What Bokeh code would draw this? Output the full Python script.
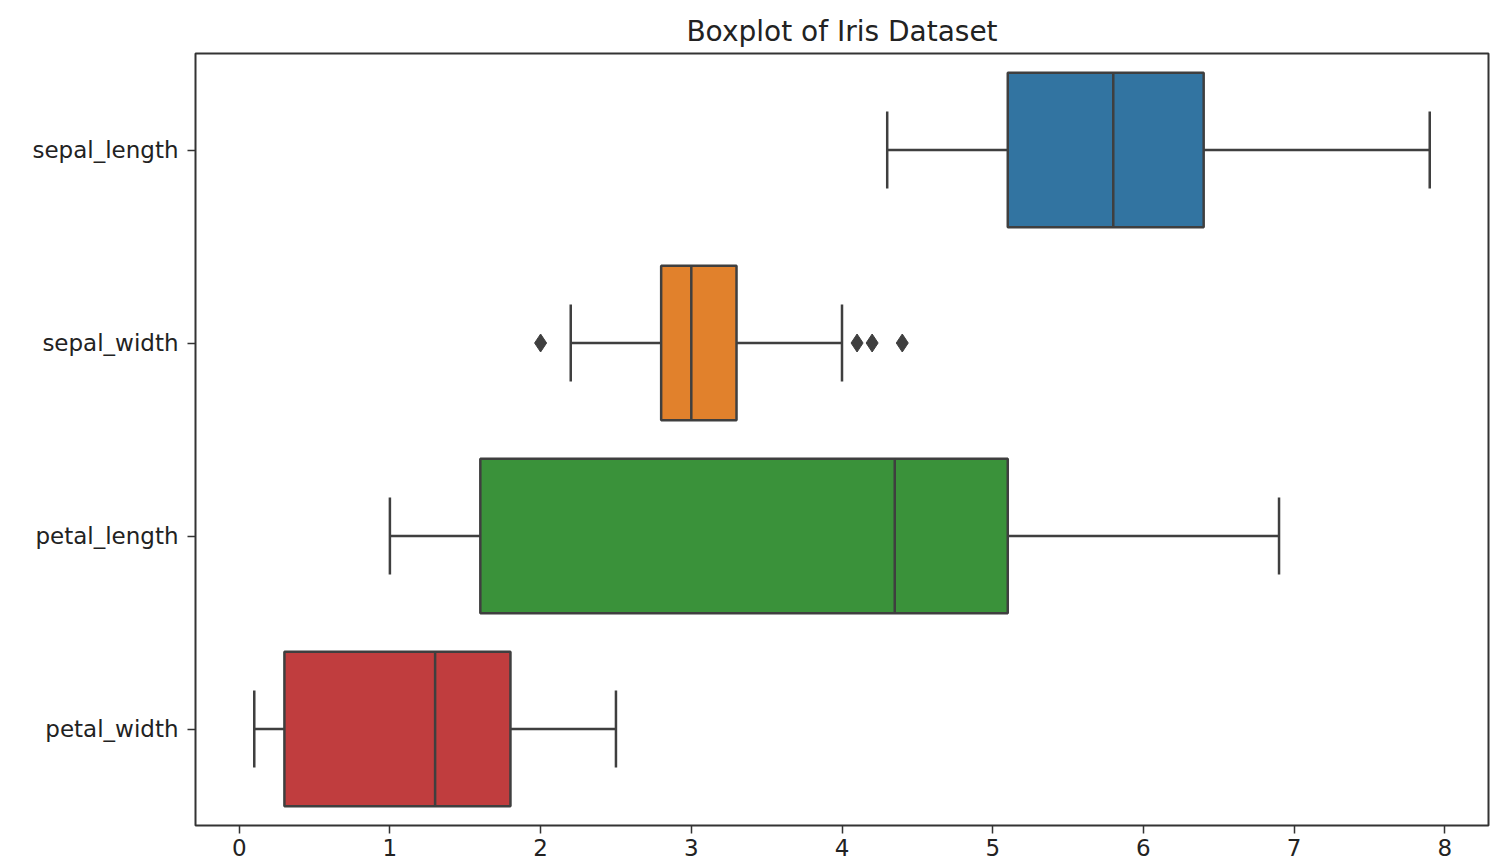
from bokeh.plotting import figure
from bokeh.models import Range1d, FactorRange, SingleIntervalTicker, ColumnDataSource
from bokeh.embed import file_html
from bokeh.resources import INLINE

categories = ["sepal_length", "sepal_width", "petal_length", "petal_width"]
whisker_lo = [4.3, 2.2, 1.0, 0.1]
q1 = [5.1, 2.8, 1.6, 0.3]
median = [5.8, 3.0, 4.35, 1.3]
q3 = [6.4, 3.3, 5.1, 1.8]
whisker_hi = [7.9, 4.0, 6.9, 2.5]
colors = ["#3274a1", "#e1812c", "#3a923a", "#c03d3e"]
outlier_cat = ["sepal_width", "sepal_width", "sepal_width", "sepal_width"]
outlier_val = [2.0, 4.1, 4.2, 4.4]

LINE = "#3f3f3f"
FONT = "DejaVu Sans"
LW = 2.5

src = ColumnDataSource(dict(cat=categories, lo=whisker_lo, q1=q1, med=median,
                            q3=q3, hi=whisker_hi, color=colors))

p = figure(width=1492, height=866, output_backend="svg", toolbar_location=None,
           y_range=FactorRange(factors=categories[::-1], range_padding=0),
           x_range=Range1d(-0.29, 8.29),
           title="Boxplot of Iris Dataset",
           min_border_left=195, min_border_right=4, min_border_top=53, min_border_bottom=41)

# whiskers
p.hbar(y="cat", left="lo", right="q1", height=0, source=src, line_color=LINE, line_width=LW, fill_color=None)
p.hbar(y="cat", left="q3", right="hi", height=0, source=src, line_color=LINE, line_width=LW, fill_color=None)
# caps
p.hbar(y="cat", left="lo", right="lo", height=0.4, source=src, line_color=LINE, line_width=LW, fill_color=None)
p.hbar(y="cat", left="hi", right="hi", height=0.4, source=src, line_color=LINE, line_width=LW, fill_color=None)
# boxes
p.hbar(y="cat", left="q1", right="q3", height=0.8, source=src, fill_color="color",
       line_color=LINE, line_width=LW)
# medians
p.hbar(y="cat", left="med", right="med", height=0.8, source=src, line_color=LINE, line_width=LW, fill_color=None)
# outliers
p.scatter(x=outlier_val, y=outlier_cat, marker="diamond", size=18,
          fill_color=LINE, line_color=LINE)

p.xgrid.visible = False
p.ygrid.visible = False
p.outline_line_color = "#333333"
p.outline_line_width = 2
p.outline_line_alpha = 1

p.xaxis.ticker = SingleIntervalTicker(interval=1)
for ax in (p.xaxis[0], p.yaxis[0]):
    ax.axis_line_color = None
    ax.major_tick_in = 0
    ax.major_tick_out = 8
    ax.minor_tick_line_color = None
    ax.major_tick_line_color = "#333333"
    ax.major_tick_line_width = 1.5
    ax.major_label_text_font = FONT
    ax.major_label_text_font_size = "23px"
    ax.major_label_text_color = "#222222"
p.xaxis.major_label_standoff = 5
p.yaxis.major_label_standoff = 9

p.title.align = "center"
p.title.text_font = FONT
p.title.text_font_size = "28px"
p.title.text_font_style = "normal"
p.title.text_color = "#222222"
p.title.standoff = 12

open("out.html", "w").write(file_html(p, INLINE))
